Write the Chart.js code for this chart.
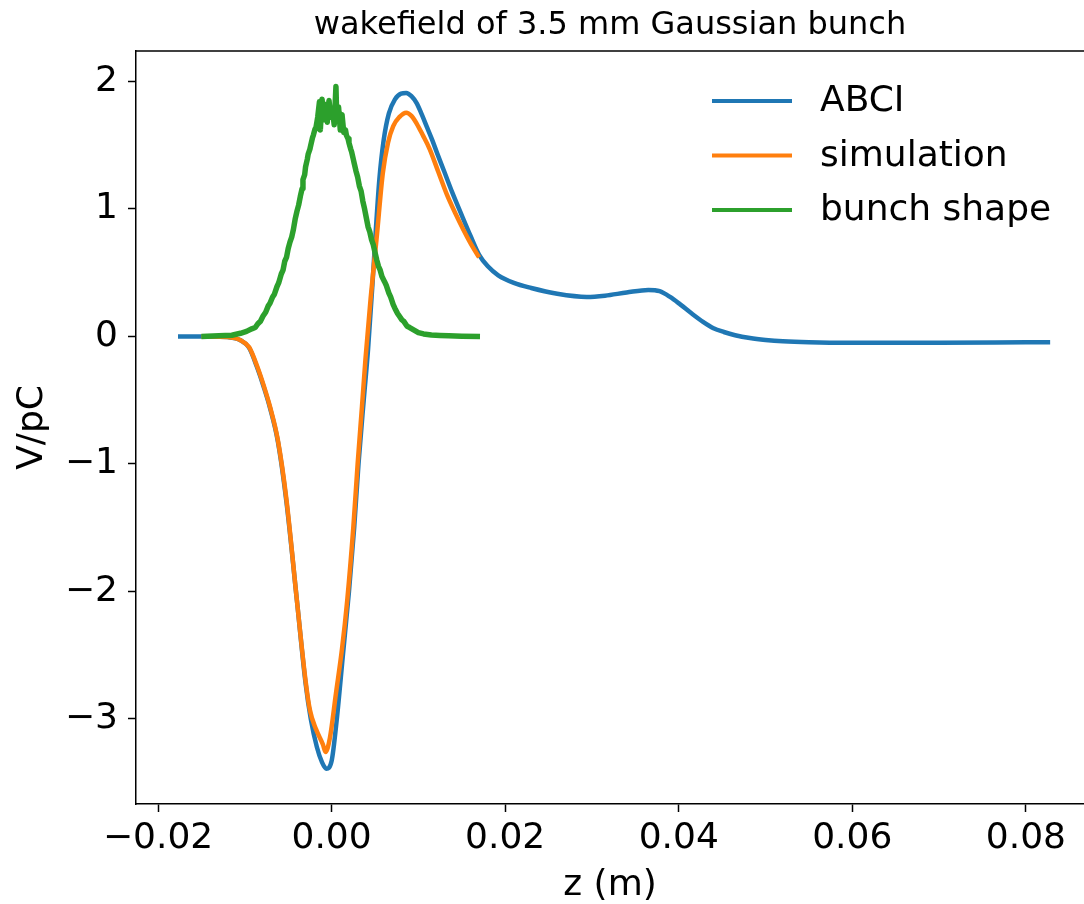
<!DOCTYPE html>
<html>
<head>
<meta charset="utf-8">
<script src="https://cdn.jsdelivr.net/npm/chart.js@4/dist/chart.umd.min.js"></script>
<style>
    html, body { margin: 0; padding: 0; background: #ffffff; }
    canvas { display: block; }
</style>
</head>
<body>
<canvas id="graph" width="1084" height="904"></canvas>
<script>
// ABCI wake potential (z in m, V/pC)
const abciZ = [-0.0177, -0.0140, -0.0120, -0.0105, -0.0095, -0.0086, -0.0078, -0.0071, -0.0062, -0.0052,
    -0.0040, -0.0030, -0.0024, -0.0017, -0.0011, -0.0006, 0.0000, 0.0006, 0.0013, 0.0020,
    0.0026, 0.0031, 0.0037, 0.0042, 0.0047, 0.0051, 0.0055, 0.0060, 0.0066, 0.0073,
    0.0080, 0.0086, 0.0092, 0.0098, 0.0104, 0.0110, 0.0116, 0.0122, 0.0130, 0.0139,
    0.0150, 0.0160, 0.0170, 0.0180, 0.0192, 0.0210, 0.0230, 0.0260, 0.0294, 0.0315,
    0.0340, 0.0365, 0.0378, 0.0390, 0.0402, 0.0415, 0.0428, 0.0440, 0.0452, 0.0465,
    0.0482, 0.0500, 0.0520, 0.0550, 0.0600, 0.0700, 0.0800, 0.0828];
const abciV = [0, 0, -0.005, -0.03, -0.09, -0.24, -0.40, -0.56, -0.82, -1.30,
    -2.07, -2.72, -3.00, -3.22, -3.34, -3.39, -3.33, -3.00, -2.50, -2.00,
    -1.50, -1.00, -0.50, -0.10, 0.40, 0.84, 1.23, 1.54, 1.75, 1.86,
    1.905, 1.91, 1.885, 1.83, 1.74, 1.64, 1.54, 1.43, 1.29, 1.13,
    0.95, 0.79, 0.64, 0.55, 0.48, 0.42, 0.38, 0.335, 0.31, 0.32,
    0.345, 0.365, 0.355, 0.31, 0.25, 0.18, 0.115, 0.065, 0.035, 0.01,
    -0.012, -0.027, -0.038, -0.046, -0.05, -0.05, -0.046, -0.045];

// simulated wake potential
const simZ = [-0.0150, -0.0120, -0.0105, -0.0095, -0.0086, -0.0078, -0.0071, -0.0062, -0.0052, -0.0040,
    -0.0030, -0.0025, -0.0018, -0.0010, -0.0007, -0.0002, 0.0005, 0.0012, 0.0018, 0.0025,
    0.0030, 0.0035, 0.0039, 0.0045, 0.0052, 0.0059, 0.0065, 0.0071, 0.0078, 0.0086,
    0.0092, 0.0098, 0.0105, 0.0113, 0.0123, 0.0133, 0.0143, 0.0152, 0.0161, 0.0170];
const simV = [0, -0.005, -0.03, -0.085, -0.23, -0.39, -0.55, -0.81, -1.28, -2.07,
    -2.70, -2.93, -3.08, -3.20, -3.26, -3.15, -2.80, -2.45, -2.07, -1.50,
    -1.00, -0.55, -0.18, 0.30, 0.78, 1.28, 1.52, 1.65, 1.72, 1.755,
    1.73, 1.67, 1.58, 1.47, 1.29, 1.11, 0.96, 0.835, 0.72, 0.62];

// measured bunch profile (noisy)
const bunchZ = [-0.0150, -0.0130, -0.0115, -0.0105, -0.0098, -0.0092, -0.0088, -0.0085, -0.0082, -0.0079,
    -0.0076, -0.0073, -0.0071, -0.0068, -0.0066, -0.0063, -0.0061, -0.0058, -0.0056, -0.0054,
    -0.0052, -0.0050, -0.0048, -0.0046, -0.0044, -0.0042, -0.0040, -0.0038, -0.0036, -0.0034,
    -0.0033, -0.0031, -0.0030, -0.0028, -0.0027, -0.0025, -0.0024, -0.0022, -0.0021, -0.0019,
    -0.0018, -0.0016, -0.0014, -0.0013, -0.0011, -0.0009, -0.0007, -0.0005, -0.0003, -0.0001,
    0.0001, 0.0003, 0.0005, 0.0006, 0.0008, 0.0010, 0.0012, 0.0014, 0.0016, 0.0017,
    0.0019, 0.0020, 0.0022, 0.0023, 0.0025, 0.0026, 0.0028, 0.0030, 0.0032, 0.0034,
    0.0036, 0.0038, 0.0040, 0.0042, 0.0044, 0.0046, 0.0048, 0.0050, 0.0052, 0.0054,
    0.0056, 0.0058, 0.0061, 0.0063, 0.0066, 0.0068, 0.0071, 0.0073, 0.0076, 0.0078,
    0.0081, 0.0083, 0.0087, 0.0090, 0.0095, 0.0100, 0.0106, 0.0115, 0.0125, 0.0135,
    0.0150, 0.0171];
const bunchV = [0, 0.005, 0.01, 0.025, 0.04, 0.06, 0.07, 0.10, 0.12, 0.16,
    0.19, 0.24, 0.26, 0.31, 0.33, 0.39, 0.42, 0.49, 0.52, 0.59,
    0.62, 0.69, 0.74, 0.78, 0.84, 0.92, 0.98, 1.03, 1.10, 1.16,
    1.23, 1.27, 1.33, 1.39, 1.43, 1.47, 1.50, 1.56, 1.58, 1.63,
    1.64, 1.72, 1.84, 1.62, 1.86, 1.70, 1.82, 1.68, 1.85, 1.72,
    1.78, 1.66, 1.96, 1.70, 1.80, 1.62, 1.74, 1.60, 1.62, 1.58,
    1.55, 1.52, 1.47, 1.45, 1.39, 1.36, 1.30, 1.25, 1.18, 1.14,
    1.06, 1.00, 0.93, 0.86, 0.82, 0.76, 0.72, 0.66, 0.60, 0.55,
    0.52, 0.47, 0.43, 0.40, 0.34, 0.31, 0.25, 0.22, 0.18, 0.16,
    0.13, 0.12, 0.08, 0.07, 0.05, 0.03, 0.02, 0.012, 0.008, 0.005,
    0.002, 0];

const xTicks = [-0.02, 0.00, 0.02, 0.04, 0.06, 0.08];
const yTicks = [-3, -2, -1, 0, 1, 2];
const seriesLabels = ['ABCI', 'simulation', 'bunch shape'];
const seriesColors = ['#1f77b4', '#ff7f0e', '#2ca02c'];

const FONT = 'DejaVu Sans';

function toPoints(xs, ys) {
    return xs.map((x, i) => ({ x: x, y: ys[i] }));
}

function minusSign(str) {
    return str.replace('-', '\u2212');
}

// top spine + legend drawn inside the axes like matplotlib
const framePlugin = {
    id: 'frame',
    afterDraw(chart) {
        const ctx = chart.ctx;
        const area = chart.chartArea;
        ctx.save();
        ctx.strokeStyle = '#000000';
        ctx.lineWidth = 1.5;
        ctx.beginPath();
        ctx.moveTo(area.left, area.top);
        ctx.lineTo(area.right, area.top);
        ctx.stroke();

        ctx.font = '36px "' + FONT + '"';
        ctx.textBaseline = 'middle';
        ctx.fillStyle = '#000000';
        seriesLabels.forEach((label, i) => {
            const y = 101 + i * 54.5;
            ctx.strokeStyle = seriesColors[i];
            ctx.lineWidth = 4;
            ctx.beginPath();
            ctx.moveTo(712, y);
            ctx.lineTo(792, y);
            ctx.stroke();
            ctx.fillText(label, 820, y + 1);
        });
        ctx.restore();
    }
};

const datasets = [
    { label: seriesLabels[0], data: toPoints(abciZ, abciV), order: 3, borderWidth: 4.5 },
    { label: seriesLabels[1], data: toPoints(simZ, simV), order: 2, borderWidth: 4.5 },
    { label: seriesLabels[2], data: toPoints(bunchZ, bunchV), order: 1, borderWidth: 5.5, tension: 0 }
].map((ds, i) => Object.assign({
    borderColor: seriesColors[i],
    backgroundColor: seriesColors[i],
    pointRadius: 0,
    fill: false,
    cubicInterpolationMode: i < 2 ? 'monotone' : 'default',
    borderJoinStyle: 'round',
    borderCapStyle: 'butt'
}, ds));

new Chart(document.getElementById('graph').getContext('2d'), {
    type: 'line',
    data: { datasets: datasets },
    options: {
        responsive: false,
        animation: false,
        devicePixelRatio: 1,
        layout: { padding: { top: 0, left: 0, right: 0, bottom: 0 } },
        scales: {
            x: {
                type: 'linear',
                min: -0.02254,
                max: 0.0867,
                afterBuildTicks: scale => { scale.ticks = xTicks.map(v => ({ value: v })); },
                afterFit: scale => { scale.height = 100; },
                ticks: {
                    color: '#000000',
                    font: { family: FONT, size: 36 },
                    padding: 5,
                    maxRotation: 0,
                    autoSkip: false,
                    callback: v => minusSign(v.toFixed(2))
                },
                grid: { drawOnChartArea: false, drawTicks: true, tickLength: 8, color: '#000000', tickWidth: 1.5 },
                border: { display: true, color: '#000000', width: 1.5 },
                title: {
                    display: true,
                    text: 'z (m)',
                    color: '#000000',
                    font: { family: FONT, size: 36, lineHeight: 1.0 },
                    padding: { top: 0, bottom: 0 }
                }
            },
            y: {
                type: 'linear',
                min: -3.667,
                max: 2.239,
                afterBuildTicks: scale => { scale.ticks = yTicks.map(v => ({ value: v })); },
                afterFit: scale => { scale.width = 136; },
                ticks: {
                    color: '#000000',
                    font: { family: FONT, size: 36 },
                    padding: 10,
                    autoSkip: false,
                    callback: v => minusSign(String(v))
                },
                grid: { drawOnChartArea: false, drawTicks: true, tickLength: 8, color: '#000000', tickWidth: 1.5 },
                border: { display: true, color: '#000000', width: 1.5 },
                title: {
                    display: true,
                    text: 'V/pC',
                    color: '#000000',
                    font: { family: FONT, size: 36 },
                    padding: { top: 11, bottom: 0 }
                }
            }
        },
        plugins: {
            legend: { display: false },
            tooltip: { enabled: false },
            title: {
                display: true,
                fullSize: false,
                text: 'wakefield of 3.5 mm Gaussian bunch',
                color: '#000000',
                font: { family: FONT, size: 32, weight: 'normal', lineHeight: 1.2 },
                padding: { top: 6, bottom: 6.6 }
            }
        }
    },
    plugins: [framePlugin]
});
</script>
</body>
</html>
